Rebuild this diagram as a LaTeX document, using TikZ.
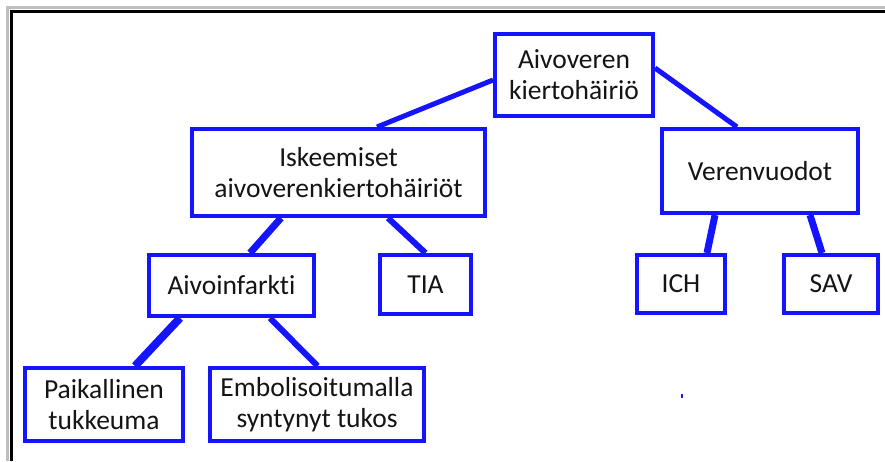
\documentclass[tikz,border=0pt]{standalone}
\usepackage{fontspec}
\setmainfont{Carlito}[Ligatures=NoCommon]
\definecolor{boxblue}{RGB}{20,20,255}
\definecolor{txt}{RGB}{20,20,20}
\begin{document}
\begin{tikzpicture}[x=1pt,y=-1pt,
  box/.style={draw=boxblue,line width=4pt,fill=white,inner sep=0pt,align=center,
    text=txt,font=\fontsize{27.5}{31}\selectfont},
  link/.style={draw=boxblue,line width=#1},
  link/.default=6pt]
\useasboundingbox (0,0) rectangle (885,461);
% frame with shadow
\draw[line width=3pt,black!25] (885,7.5) -- (7.5,7.5) -- (7.5,461);
\draw[line width=3pt,black] (885,11.5) -- (11,11.5) -- (11,461);
% nodes
\node[box,minimum width=158pt,minimum height=82pt] (root) at (574,75) {Aivoveren\\kiertohäiriö};
\node[box,minimum width=293pt,minimum height=87pt] (isk) at (338.5,172.5) {Iskeemiset\\aivoverenkiertohäiriöt};
\node[box,minimum width=196pt,minimum height=84pt] (ver) at (760,171) {Verenvuodot};
\node[box,minimum width=165pt,minimum height=61pt] (aivo) at (231.5,285.5) {Aivoinfarkti};
\node[box,minimum width=91pt,minimum height=59pt] (tia) at (425.5,284.5) {TIA};
\node[box,minimum width=88pt,minimum height=58pt] (ich) at (681,284) {ICH};
\node[box,minimum width=94pt,minimum height=58pt] (sav) at (831,284) {SAV};
\node[box,minimum width=158pt,minimum height=73pt] (pai) at (104,404.5) {Paikallinen\\tukkeuma};
\node[box,minimum width=214pt,minimum height=73pt] (emb) at (317,404.5) {Embolisoitumalla\\syntynyt tukos};
% connectors
\draw[link=5pt] ([yshift=-5pt]root.west) -- ([xshift=38.5pt]isk.north);
\draw[link=5pt] ([yshift=7pt]root.east) -- ([xshift=-23pt]ver.north);
\draw[link=7pt] ([xshift=-57.5pt]isk.south) -- ([xshift=18.5pt]aivo.north);
\draw[link=6pt] ([xshift=49.5pt]isk.south) -- (tia.north);
\draw[link=7pt] ([xshift=-45pt]ver.south) -- ([xshift=26pt]ich.north);
\draw[link=7pt] ([xshift=50pt]ver.south) -- ([xshift=-9pt]sav.north);
\draw[link=8pt] ([xshift=-51.5pt]aivo.south) -- ([xshift=31pt]pai.north);
\draw[link=6pt] ([xshift=38.5pt]aivo.south) -- ([xshift=0.5pt]emb.north);
% stray dot
\fill[boxblue] (681,394) rectangle (683,398);
\end{tikzpicture}
\end{document}
